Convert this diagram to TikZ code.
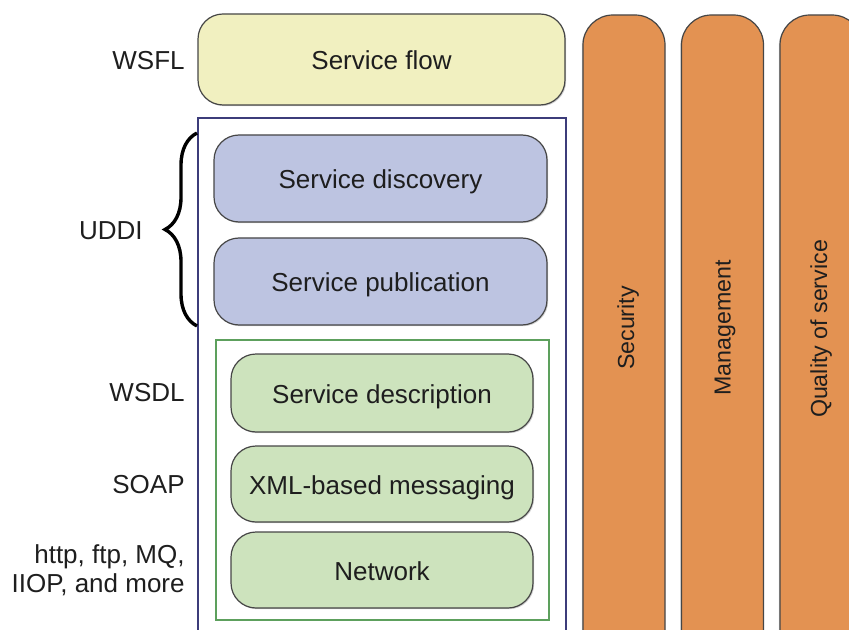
\documentclass[tikz,border=0pt]{standalone}
\usepackage{fontspec}
\setmainfont{Liberation Sans}
\usetikzlibrary{decorations.pathreplacing,shadows}
\definecolor{flowfill}{RGB}{241,240,192}
\definecolor{bluefill}{RGB}{189,196,225}
\definecolor{greenfill}{RGB}{205,227,189}
\definecolor{orangefill}{RGB}{227,146,82}
\definecolor{navyline}{RGB}{60,60,122}
\definecolor{greenline}{RGB}{93,160,93}
\definecolor{boxline}{RGB}{70,70,70}
\definecolor{txt}{RGB}{30,30,30}
\tikzset{
  layer/.style={draw=boxline, line width=0.6pt, rounded corners=12.5pt, align=center,
    font=\fontsize{13}{15.6}\selectfont, text=txt, text height=11.5pt, text depth=1pt,
    drop shadow={shadow xshift=0.6pt, shadow yshift=-0.6pt, opacity=0.35}},
  bar/.style={draw=boxline, line width=0.6pt, fill=orangefill, rounded corners=15pt,
    minimum width=41pt, minimum height=340pt,
    drop shadow={shadow xshift=-0.6pt, shadow yshift=-0.6pt, opacity=0.35}},
  bartext/.style={rotate=90, font=\fontsize{11.6}{14}\selectfont, text=txt},
  lbl/.style={anchor=east, align=right, font=\fontsize{13}{14.6}\selectfont, text=txt, inner sep=0pt}
}
\begin{document}
\begin{tikzpicture}[x=0.5pt,y=-0.5pt]
\useasboundingbox (0,0) rectangle (849,630);
\begin{scope}
\clip (0,0) rectangle (849,630);
% vertical bars
\node[bar] (sec) at (624,355) {};
\node[bar] (mgmt) at (722.5,355) {};
\node[bar] (qos) at (821,355) {};
\node[bartext] (sectxt) at (628,328) {Security};
\node[bartext] (mgmttxt) at (725,328) {Management};
\node[bartext] (qostxt) at (821,329) {Quality of service};
% outer UDDI/WSDL container
\node[draw=navyline, line width=0.8pt, minimum width=184pt, minimum height=271pt, inner sep=0pt] (outer) at (382,389) {};
\end{scope}
% service flow
\node[layer, fill=flowfill, minimum width=183.5pt, minimum height=45.5pt] (flow) at (381.5,59.5) {Service flow};
% UDDI boxes
\node[layer, fill=bluefill, minimum width=166.5pt, minimum height=43.5pt] (disc) at (380.5,178.5) {Service discovery};
\node[layer, fill=bluefill, minimum width=166.5pt, minimum height=43.5pt] (pub) at (380.5,281.5) {Service publication};
% green container
\node[draw=greenline, line width=0.8pt, minimum width=166.5pt, minimum height=140pt, inner sep=0pt] (green) at (382.5,480) {};
\node[layer, fill=greenfill, minimum width=151pt, minimum height=39pt] (desc) at (382,393) {Service description};
\node[layer, fill=greenfill, minimum width=151pt, minimum height=38pt] (xml) at (382,484) {XML-based messaging};
\node[layer, fill=greenfill, minimum width=151pt, minimum height=38pt] (net) at (382,570) {Network};
% left labels
\node[lbl] (wsfl) at (185,61) {WSFL};
\node[lbl] (uddi) at (143,231) {UDDI};
\node[lbl] (wsdl) at (185,393) {WSDL};
\node[lbl] (soap) at (185,485) {SOAP};
\node[lbl] (proto) at (185,570) {http, ftp, MQ,\\IIOP, and more};
% brace
\coordinate (bt) at (197,133);
\coordinate (bb) at (197,326);
\draw[line width=1.7pt, decorate, decoration={brace, amplitude=16pt, aspect=0.5}] (bb) -- (bt);
\end{tikzpicture}
\end{document}
